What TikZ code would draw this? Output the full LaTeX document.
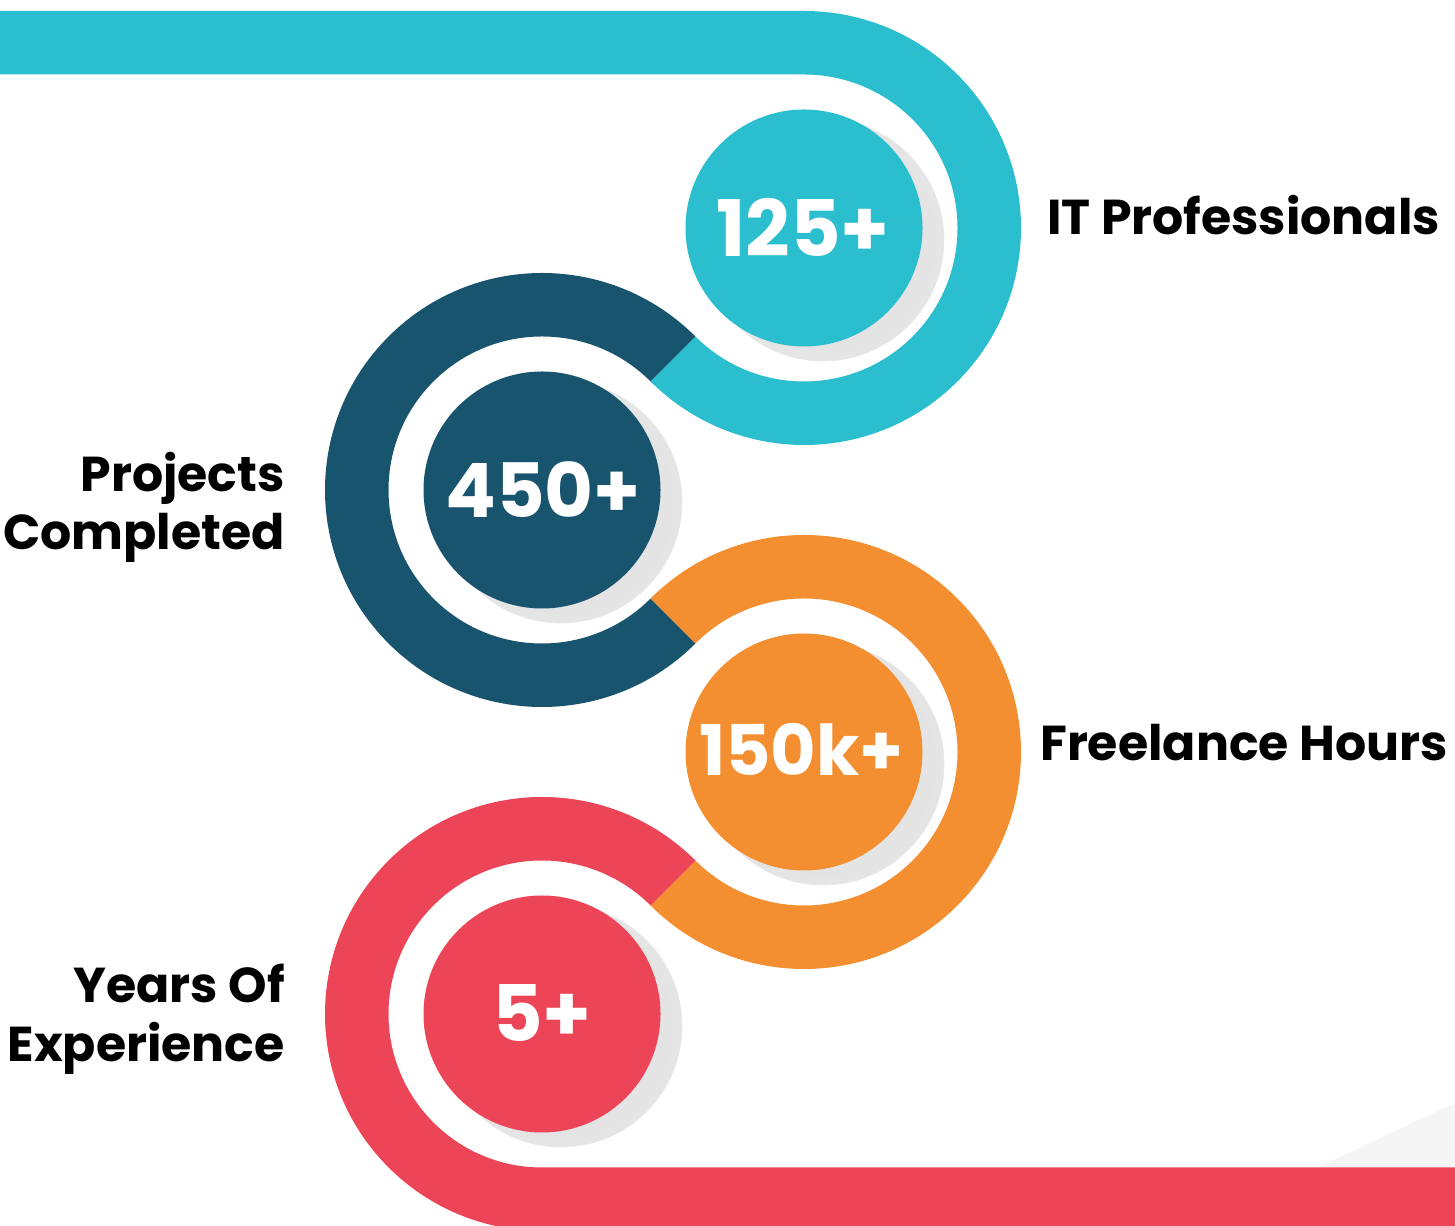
\documentclass[tikz,border=0pt]{standalone}
\usepackage{fontspec}
\setmainfont{Poppins}
\usetikzlibrary{calc}
\definecolor{cteal}{RGB}{43,190,206}
\definecolor{cnavy}{RGB}{25,84,110}
\definecolor{corange}{RGB}{244,143,49}
\definecolor{cred}{RGB}{236,69,87}
\pgfdeclareradialshading{dropshade}{\pgfpoint{0bp}{0bp}}{color(0bp)=(black!11); color(38bp)=(black!10); color(42bp)=(black!5); color(46bp)=(black!2); color(50bp)=(white)}
\begin{document}
\begin{tikzpicture}[x=1pt,y=1pt,
  num/.style={text=white,font=\bfseries\fontsize{78}{78}\selectfont,inner sep=0pt,anchor=base},
  lbl/.style={text=black,font=\bfseries\fontsize{49}{49}\selectfont,inner sep=0pt},
  disc/.style={circle,minimum size=237pt,inner sep=0pt},
  shadowdisc/.style={circle,minimum size=242pt,inner sep=0pt,shade,shading=dropshade,draw=black!9,line width=0.6pt}
]
\useasboundingbox (0,0) rectangle (1455,1225);
\coordinate (C1) at (804,997);
\coordinate (C2) at (542,735);
\coordinate (C3) at (804,473);
\coordinate (C4) at (542,211);
\def\Ro{217pt}\def\Ri{153.5pt}

% faint background triangle
\fill[black!4] (1320,59) -- (1455,122) -- (1455,59) -- cycle;

% bands
\fill[cteal] (0,1214) -- (804,1214) arc[start angle=90,end angle=-135,radius=\Ro]
  -- ($(C1)+(-135:153.5)$) arc[start angle=-135,end angle=90,radius=\Ri] -- (0,1150.5) -- cycle;
\fill[cnavy] ($(C2)+(45:217)$) arc[start angle=45,end angle=315,radius=\Ro]
  -- ($(C2)+(315:153.5)$) arc[start angle=315,end angle=45,radius=\Ri] -- cycle;
\fill[corange] ($(C3)+(135:217)$) arc[start angle=135,end angle=-135,radius=\Ro]
  -- ($(C3)+(-135:153.5)$) arc[start angle=-135,end angle=135,radius=\Ri] -- cycle;
\fill[cred] ($(C4)+(45:217)$) arc[start angle=45,end angle=270,radius=\Ro]
  -- (1455,-6) -- (1455,57.5) -- (542,57.5) arc[start angle=270,end angle=45,radius=\Ri] -- cycle;

% discs with shadows
\node[shadowdisc] (s1) at ($(C1)+(19,-12)$) {};
\node[disc,fill=cteal] (d1) at (C1) {};
\node[shadowdisc] (s2) at ($(C2)+(19,-12)$) {};
\node[disc,fill=cnavy] (d2) at (C2) {};
\node[shadowdisc] (s3) at ($(C3)+(19,-12)$) {};
\node[disc,fill=corange] (d3) at (C3) {};
\node[shadowdisc] (s4) at ($(C4)+(19,-12)$) {};
\node[disc,fill=cred] (d4) at (C4) {};

% numbers
\node[num] (n1) at (803,968) {125+};
\node[num,font=\bfseries\fontsize{75}{75}\selectfont] (n2) at (543,707) {450+};
\node[num,font=\bfseries\fontsize{70}{70}\selectfont] (n3) at (801.5,449) {150k+};
\node[num] (n4) at (542,183) {5+};

% labels
\node[lbl,anchor=base west] (l1) at (1047,990) {IT Professionals};
\node[lbl,anchor=base east] (l2a) at (285,733) {Projects};
\node[lbl,anchor=base east] (l2b) at (285,675) {Completed};
\node[lbl,anchor=base west] (l3) at (1040,464) {Freelance Hours};
\node[lbl,anchor=base east] (l4a) at (285,222) {Years Of};
\node[lbl,anchor=base east] (l4b) at (285,163) {Experience};
\end{tikzpicture}
\end{document}
